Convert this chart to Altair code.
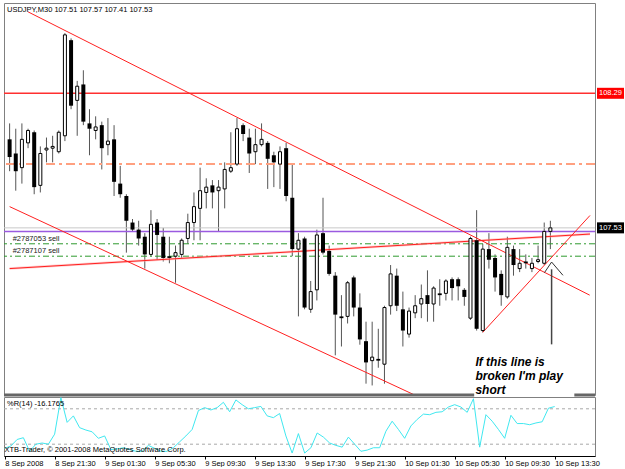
import altair as alt
import pandas as pd

# ---------------- data ----------------
opens = [108.03, 107.95, 107.87, 108.01, 108.07, 107.77, 107.97, 107.98, 107.96, 108.05,
         108.59, 108.25, 108.34, 108.12, 108.08, 108.11, 108.00, 108.03, 107.78, 107.71,
         107.56, 107.52, 107.48, 107.38, 107.56, 107.48, 107.37, 107.37, 107.38, 107.47,
         107.56, 107.64, 107.73, 107.77, 107.74, 107.75, 107.85, 107.89, 108.11, 108.04,
         107.96, 108.00, 108.01, 107.94, 107.89, 107.98, 107.70, 107.41, 107.47, 107.07,
         107.18, 107.50, 107.40, 107.26, 107.03, 107.03, 107.25, 107.08, 106.89, 106.78,
         106.79, 106.76, 107.09, 107.26, 107.07, 106.93, 107.05, 107.10, 107.15, 107.10,
         107.16, 107.16, 107.24, 107.24, 107.18, 107.02, 107.46, 106.95, 107.41, 107.36,
         107.27, 107.14, 107.41, 107.30, 107.34, 107.30, 107.34, 107.33, 107.51]
highs = [108.12, 108.09, 108.12, 108.09, 108.08, 107.99, 108.04, 108.05, 108.08, 108.63,
         108.60, 108.36, 108.42, 108.20, 108.16, 108.13, 108.15, 108.11, 107.88, 107.72,
         107.58, 107.57, 107.50, 107.63, 107.58, 107.53, 107.48, 107.43, 107.47, 107.61,
         107.73, 107.87, 107.81, 107.80, 107.80, 107.90, 108.07, 108.15, 108.12, 108.09,
         108.09, 108.12, 108.02, 107.96, 107.99, 108.01, 107.89, 107.50, 107.48, 107.23,
         107.52, 107.70, 107.43, 107.28, 107.15, 107.23, 107.26, 107.16, 107.00, 107.00,
         106.96, 107.09, 107.32, 107.30, 107.17, 107.08, 107.15, 107.21, 107.29, 107.20,
         107.24, 107.24, 107.25, 107.25, 107.19, 107.48, 107.63, 107.44, 107.50, 107.38,
         107.29, 107.48, 107.43, 107.41, 107.38, 107.36, 107.43, 107.56, 107.57]
lows = [107.85, 107.74, 107.78, 107.98, 107.72, 107.73, 107.90, 107.90, 107.95, 108.02,
        108.20, 108.05, 108.11, 107.94, 108.03, 107.86, 107.94, 107.71, 107.70, 107.39,
        107.51, 107.43, 107.30, 107.37, 107.35, 107.34, 107.33, 107.22, 107.36, 107.44,
        107.46, 107.46, 107.64, 107.64, 107.51, 107.64, 107.84, 107.88, 108.02, 107.84,
        107.89, 107.99, 107.75, 107.76, 107.75, 107.68, 107.37, 107.03, 107.07, 107.05,
        107.12, 107.38, 107.26, 106.81, 106.86, 106.99, 107.03, 106.87, 106.65, 106.64,
        106.74, 106.65, 107.04, 107.06, 106.86, 106.91, 107.02, 107.02, 107.00, 107.00,
        107.09, 107.12, 107.12, 107.12, 107.09, 107.01, 106.95, 106.94, 107.30, 107.17,
        107.09, 107.13, 107.26, 107.28, 107.30, 107.28, 107.33, 107.32, 107.41]
closes = [107.93, 107.85, 108.03, 108.08, 107.76, 107.95, 107.98, 107.99, 108.07, 108.62,
          108.22, 108.33, 108.13, 108.09, 108.10, 107.98, 108.02, 107.79, 107.72, 107.57,
          107.52, 107.47, 107.38, 107.55, 107.49, 107.36, 107.36, 107.39, 107.46, 107.56,
          107.65, 107.74, 107.76, 107.73, 107.76, 107.86, 107.87, 108.09, 108.06, 107.95,
          108.00, 108.03, 107.92, 107.90, 107.96, 107.71, 107.41, 107.46, 107.08, 107.17,
          107.49, 107.39, 107.27, 107.04, 107.02, 107.22, 107.08, 106.90, 106.77, 106.80,
          106.78, 107.08, 107.27, 107.09, 106.95, 107.06, 107.09, 107.13, 107.10, 107.19,
          107.15, 107.23, 107.19, 107.20, 107.14, 107.47, 106.96, 107.41, 107.35, 107.25,
          107.15, 107.42, 107.32, 107.33, 107.33, 107.33, 107.35, 107.51, 107.53]
wpr = [-87, -83, -72, -69, -92, -80, -78, -80, -63, -1,
       -43, -32, -52, -56, -59, -70, -66, -89, -88, -86,
       -89, -92, -92, -82, -87, -92, -92, -86, -76, -66,
       -55, -23, -18, -22, -18, -9, -25, -5, -13, -20,
       -18, -16, -32, -35, -28, -66, -95, -62, -95, -86,
       -61, -68, -78, -82, -85, -68, -80, -92, -90, -86,
       -86, -58, -41, -55, -70, -49, -38, -29, -30, -26,
       -25, -17, -13, -17, -26, -3, -85, -30, -41, -55,
       -70, -31, -45, -45, -47, -44, -42, -19, -16.18]
time_labels = ["8 Sep 2008", "8 Sep 21:30", "9 Sep 01:30", "9 Sep 05:30", "9 Sep 09:30",
               "9 Sep 13:30", "9 Sep 17:30", "9 Sep 21:30", "10 Sep 01:30", "10 Sep 05:30",
               "10 Sep 09:30", "10 Sep 13:30"]
price_ticks = [106.65, 106.80, 106.95, 107.10, 107.25, 107.40, 107.55, 107.70,
               107.85, 108.00, 108.15, 108.30, 108.45, 108.60, 108.75]
wpr_ticks = [0, -20, -80, -100]
wpr_levels = [-20, -80]

red_level = 108.29
salmon_level = 107.89
bid_level = 107.53
purple_level = 107.51
order_levels = [107.44, 107.37]
order_names = ["#2787053 sell", "#2787107 sell"]

# trend lines: (bar, price) end points
trend_id = ["a", "a", "b", "b", "c", "c", "d", "d"]
trend_bar = [3.0, 94.4, 0.0, 70.0, 0.0, 94.45, 77.0, 94.45]
trend_price = [108.75, 107.15, 107.65, 106.52, 107.30, 107.495, 106.94, 107.60]
chev_bar = [87.04, 88.2, 90.05]
chev_price = [107.277, 107.337, 107.262]
shaft_bar = [88.2]
shaft_top = [107.296]
shaft_bottom = [106.872]
note_lines = ["If this line is", "broken I'm play", "short"]
note_bar = [75.8, 75.8, 75.8]
note_price = [106.750, 106.671, 106.591]

title_text = "USDJPY,M30  107.51 107.57 107.41 107.53"
wpr_text = "%R(14) -16.1765"
copyright_text = "XTB-Trader, \u00a9 2001-2008 MetaQuotes Software Corp."

# ---------------- frames ----------------
bars = list(range(len(opens)))
df = pd.DataFrame({"bar": bars, "open": opens, "high": highs, "low": lows, "close": closes})
wdf = pd.DataFrame({"bar": bars, "wpr": wpr})
tdf = pd.DataFrame({"id": trend_id, "bar": trend_bar, "price": trend_price})
cdf = pd.DataFrame({"bar": chev_bar, "price": chev_price, "o": [0, 1, 2]})
sdf = pd.DataFrame({"bar": shaft_bar, "top": shaft_top, "bottom": shaft_bottom})
ndf = pd.DataFrame({"bar": note_bar, "price": note_price, "t": note_lines})
odf = pd.DataFrame({"p": order_levels, "name": order_names, "bar": [0.5, 0.5]})

W, H_MAIN, H_IND = 591, 392, 59
FONT = "Liberation Sans"
FS = 7.5

xs = alt.Scale(domain=[-0.1, 94.45], nice=False, zero=False)
ys = alt.Scale(domain=[106.586, 108.80], nice=False, zero=False)
ws = alt.Scale(domain=[-100, 0], nice=False, zero=False)

X = alt.X("bar:Q", scale=xs, axis=None)

def yq(field, axis=None, scale=ys):
    return alt.Y(field, scale=scale, axis=axis)

main_axis = alt.Axis(orient="right", values=price_ticks, format=".2f", title=None, grid=False,
                     tickSize=3, labelPadding=1, labelOverlap=False, labelFlush=False)

wick = alt.Chart(df).mark_rule(color="#555555", strokeWidth=1, clip=True).encode(
    x=X, y=yq("low:Q", main_axis), y2="high:Q")
down = alt.Chart(df).transform_filter("datum.close < datum.open").mark_bar(
    size=4, color="#000000", clip=True).encode(x=X, y=yq("open:Q"), y2="close:Q")
up = alt.Chart(df).transform_filter("datum.close >= datum.open").mark_bar(
    size=3, fill="#ffffff", stroke="#000000", strokeWidth=1, clip=True).encode(
    x=X, y=yq("open:Q"), y2="close:Q")

def hline(level, **kw):
    return alt.Chart(pd.DataFrame({"p": [level]})).mark_rule(**kw).encode(y=yq("p:Q"))

red_line = hline(red_level, color="#FF3030", strokeWidth=1.5)
salmon_line = hline(salmon_level, color="#FFA080", strokeWidth=2, strokeDash=[9, 4, 3, 4])
bid_line = hline(bid_level, color="#C8C8C8", strokeWidth=1)
purple_line = hline(purple_level, color="#9A5AE0", strokeWidth=1.5)
green_lines = alt.Chart(odf).mark_rule(color="#2E9A2E", strokeWidth=1, strokeDash=[6, 3, 2, 3]).encode(
    y=yq("p:Q"))
green_text = alt.Chart(odf).mark_text(align="left", baseline="bottom", dy=-1, font=FONT,
                                      fontSize=FS, color="#222222").encode(
    x=X, y=yq("p:Q"), text="name:N")

trend_pink = alt.Chart(tdf).transform_filter("datum.id == 'c'").mark_line(
    color="#FFA0A0", strokeWidth=2.5, opacity=0.5, clip=True).encode(
    x=X, y=yq("price:Q"), detail="id:N")
trends = alt.Chart(tdf).mark_line(color="#FF2020", strokeWidth=1, clip=True).encode(
    x=X, y=yq("price:Q"), detail="id:N")

chevron = alt.Chart(cdf).mark_line(color="#333333", strokeWidth=1).encode(
    x=X, y=yq("price:Q"), order="o:Q")
shaft = alt.Chart(sdf).mark_rule(color="#444444", strokeWidth=1.5).encode(
    x=X, y=yq("top:Q"), y2="bottom:Q")

sep = alt.Chart(pd.DataFrame({"a": [0]})).mark_rule(color="#666666", strokeWidth=3).encode(
    y=alt.value(H_MAIN))
mask = alt.Chart(pd.DataFrame({"b0": [75.6], "b1": [91.9], "p": [106.60]})).mark_rect(
    color="#ffffff").encode(x=alt.X("b0:Q", scale=xs, axis=None), x2="b1:Q",
                            y=yq("p:Q"), y2=alt.value(H_MAIN + 3))
note = alt.Chart(ndf).mark_text(align="left", baseline="alphabetic", font=FONT, fontSize=12,
                                fontWeight="bold", fontStyle="italic", color="#000000").encode(
    x=X, y=yq("price:Q"), text="t:N")

title = alt.Chart(pd.DataFrame({"t": [title_text]})).mark_text(
    align="left", baseline="middle", font=FONT, fontSize=FS, color="#000000").encode(
    x=alt.value(3), y=alt.value(6.5), text="t:N")

bid_box = alt.Chart(pd.DataFrame({"p": [bid_level]})).mark_tick(
    color="#000000", size=27, thickness=11, opacity=1).encode(y=yq("p:Q"), x=alt.value(606.5))
bid_txt = alt.Chart(pd.DataFrame({"p": [bid_level]})).mark_text(
    align="left", baseline="middle", font=FONT, fontSize=FS, color="#ffffff").encode(
    y=yq("p:Q"), x=alt.value(595), text=alt.Text("p:Q", format=".2f"))
red_box = alt.Chart(pd.DataFrame({"p": [red_level]})).mark_tick(
    color="#FF0000", size=27, thickness=11, opacity=1).encode(y=yq("p:Q"), x=alt.value(606.5))
red_txt = alt.Chart(pd.DataFrame({"p": [red_level]})).mark_text(
    align="left", baseline="middle", font=FONT, fontSize=FS, color="#ffffff").encode(
    y=yq("p:Q"), x=alt.value(595), text=alt.Text("p:Q", format=".2f"))

main = alt.layer(
    wick, red_line, salmon_line, bid_line, purple_line, green_lines, green_text,
    trend_pink, trends, down, up, chevron, shaft, sep, mask, note, title,
    red_box, red_txt, bid_box, bid_txt
).properties(width=W, height=H_MAIN)

# ---------------- indicator ----------------
label_expr = "[" + ",".join("'" + s + "'" for s in time_labels) + "][round(datum.value / 8)]"
x_axis = alt.Axis(values=[8 * i for i in range(len(time_labels))], labelExpr=label_expr,
                  labelAlign="left", labelBaseline="top", tickSize=3, labelPadding=0,
                  labelOverlap=False, labelFlush=False, labelBound=False, grid=False, title=None)
w_axis = alt.Axis(orient="right", values=wpr_ticks, title=None, grid=False, tickSize=3,
                  labelPadding=1, labelFlush=True, labelOverlap=False)

levels = alt.Chart(pd.DataFrame({"v": wpr_levels})).mark_rule(
    color="#A8A8A8", strokeWidth=1, strokeDash=[3, 3]).encode(y=alt.Y("v:Q", scale=ws, axis=None))
wline = alt.Chart(wdf).mark_line(color="#40E8F0", strokeWidth=1, clip=True).encode(
    x=alt.X("bar:Q", scale=xs, axis=x_axis), y=alt.Y("wpr:Q", scale=ws, axis=w_axis))
wlabel = alt.Chart(pd.DataFrame({"t": [wpr_text]})).mark_text(
    align="left", baseline="middle", font=FONT, fontSize=FS, color="#000000").encode(
    x=alt.value(3), y=alt.value(7), text="t:N")
clabel = alt.Chart(pd.DataFrame({"t": [copyright_text]})).mark_text(
    align="left", baseline="middle", font=FONT, fontSize=FS, color="#000000").encode(
    x=alt.value(0.5), y=alt.value(53), text="t:N")

ind = alt.layer(levels, wline, wlabel, clabel).properties(width=W, height=H_IND)

chart = alt.vconcat(main, ind, spacing=2, bounds="flush").configure(
    padding={"left": 2, "top": 2, "right": 0, "bottom": 0}, background="#ffffff"
).configure_view(stroke="#808080", strokeWidth=1).configure_axis(
    labelFont=FONT, labelFontSize=FS, labelColor="#000000", domainColor="#000000",
    tickColor="#000000", domainWidth=1, tickWidth=1)

chart.save("out.html", embed_options={"renderer": "svg", "actions": False})
